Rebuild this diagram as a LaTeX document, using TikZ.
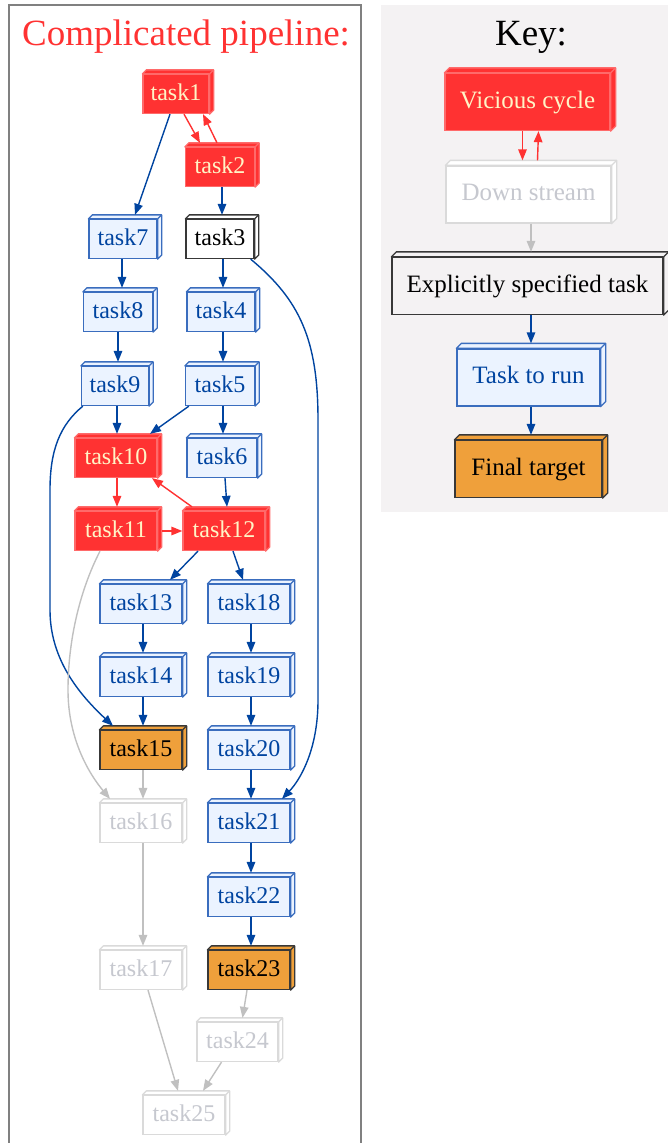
\documentclass[tikz,border=0pt]{standalone}
\usepackage{fontspec}
\setmainfont{Liberation Serif}
\usetikzlibrary{arrows.meta}

\definecolor{cRed}{HTML}{FF3232}
\definecolor{cRedLine}{HTML}{FF6A6A}
\definecolor{cRedText}{HTML}{FFF4C6}
\definecolor{cBlue}{HTML}{0044A0}
\definecolor{cBlueLine}{HTML}{3A6DBE}
\definecolor{cBlueFill}{HTML}{EBF3FF}
\definecolor{cGrayLine}{HTML}{DADADA}
\definecolor{cGrayText}{HTML}{C6C8CF}
\definecolor{cGrayEdge}{HTML}{C0C0C0}
\definecolor{cBlackLine}{HTML}{383838}
\definecolor{cOrange}{HTML}{EFA03B}
\definecolor{cKeyBg}{HTML}{F4F2F3}
\definecolor{cFrame}{HTML}{808080}

% depth of the 3d boxes
\newcommand\bd{4pt}

% 3d box: front face is the node, top and right faces drawn behind it
\newcommand\boxnode[6]{%
  \node[#1, minimum width=#5pt] (#2) at (#3,#4) {#6};
  \filldraw[#1, line join=round]
    (#2.north west) -- ([shift={(\bd,\bd)}]#2.north west)
    -- ([shift={(\bd,\bd)}]#2.north east)
    -- ([shift={(\bd,\bd)}]#2.south east)
    -- (#2.south east) -- (#2.north east) -- cycle;
  \draw[#1] (#2.north east) -- ([shift={(\bd,\bd)}]#2.north east);
}

\tikzset{
  tk/.style={rectangle, inner sep=0pt, minimum height=39pt, line width=1.3pt,
    text height=17pt, text depth=5pt, font=\fontsize{24}{28}\selectfont},
  kb/.style={rectangle, inner sep=0pt, minimum height=57pt, line width=1.3pt,
    text height=17pt, text depth=5pt, font=\fontsize{25}{28}\selectfont},
  redc/.style={draw=cRedLine, fill=cRed, text=cRedText},
  bluec/.style={draw=cBlueLine, fill=cBlueFill, text=cBlue},
  grayc/.style={draw=cGrayLine, fill=white, text=cGrayText},
  blackc/.style={draw=cBlackLine, fill=white, text=black},
  orangec/.style={draw=cBlackLine, fill=cOrange, text=black},
  tip/.style={-{Triangle[length=11pt,width=8.5pt]}},
  be/.style={draw=cBlue, line width=1.4pt, tip},
  re/.style={draw=cRed, line width=1.4pt, tip},
  ge/.style={draw=cGrayEdge, line width=1.4pt, tip},
}

\begin{document}
\begin{tikzpicture}[x=1pt, y=-1pt]
\useasboundingbox (0,0) rectangle (668,1143);

% panels
\fill[cKeyBg] (381,5) rectangle (668,512);
\draw[cFrame, line width=1.6pt] (9,1150) -- (9,5) -- (361,5) -- (361,1150);

% titles
\node[anchor=base, text=cRed, font=\fontsize{37}{40}\selectfont] (ptitle) at (186,45) {Complicated pipeline:};
\node[anchor=base, text=black, font=\fontsize{37}{40}\selectfont] (ktitle) at (531,45) {Key:};

% pipeline tasks
\boxnode{tk,redc}{task1}{176}{94}{66}{task1}
\boxnode{tk,redc}{task2}{220}{167}{69}{task2}
\boxnode{tk,bluec}{task7}{123}{239}{68}{task7}
\boxnode{tk,blackc}{task3}{220}{239}{68}{task3}
\boxnode{tk,bluec}{task8}{118}{312}{69}{task8}
\boxnode{tk,bluec}{task4}{221}{312}{68}{task4}
\boxnode{tk,bluec}{task9}{115}{386}{67}{task9}
\boxnode{tk,bluec}{task5}{220}{386}{69}{task5}
\boxnode{tk,redc}{task10}{116}{458}{82}{task10}
\boxnode{tk,bluec}{task6}{222}{458}{70}{task6}
\boxnode{tk,redc}{task11}{116}{531}{82}{task11}
\boxnode{tk,redc}{task12}{224}{531}{82}{task12}
\boxnode{tk,bluec}{task13}{141}{604}{82}{task13}
\boxnode{tk,bluec}{task18}{249}{604}{82}{task18}
\boxnode{tk,bluec}{task14}{141}{677}{82}{task14}
\boxnode{tk,bluec}{task19}{249}{677}{82}{task19}
\boxnode{tk,orangec}{task15}{141}{750}{82}{task15}
\boxnode{tk,bluec}{task20}{249}{750}{82}{task20}
\boxnode{tk,grayc}{task16}{141}{823}{82}{task16}
\boxnode{tk,bluec}{task21}{249}{823}{82}{task21}
\boxnode{tk,bluec}{task22}{249}{897}{82}{task22}
\boxnode{tk,grayc}{task17}{141}{970}{82}{task17}
\boxnode{tk,orangec}{task23}{249}{970}{82}{task23}
\boxnode{tk,grayc}{task24}{237.5}{1042}{81}{task24}
\boxnode{tk,grayc}{task25}{184}{1115}{82}{task25}

% pipeline edges
\draw[be] ([xshift=-6pt]task1.south) -- ([xshift=12pt,yshift=4pt]task7.north);
\draw[re] ([xshift=8pt]task1.south) -- ([xshift=-20pt,yshift=4pt]task2.north);
\draw[re] ([xshift=-3pt,yshift=4pt]task2.north) -- ([xshift=27pt]task1.south);
\draw[be] ([xshift=2pt]task2.south) -- ([xshift=2pt,yshift=4pt]task3.north);
\draw[be] ([xshift=-1pt]task7.south) -- ([xshift=4pt,yshift=4pt]task8.north);
\draw[be] (task8.south) -- ([xshift=3pt,yshift=4pt]task9.north);
\draw[be] ([xshift=3pt]task3.south) -- ([xshift=2pt,yshift=4pt]task4.north);
\draw[be] ([xshift=2pt]task4.south) -- ([xshift=3pt,yshift=4pt]task5.north);
\draw[be] ([xshift=3pt]task5.south) -- ([xshift=1pt,yshift=4pt]task6.north);
\draw[be] ([xshift=2pt]task9.south) -- ([xshift=1pt,yshift=4pt]task10.north);
\draw[be] ([xshift=4pt]task5.south west) -- ([xshift=34pt,yshift=4pt]task10.north);
\draw[be] ([xshift=3pt]task6.south) -- ([xshift=3pt,yshift=4pt]task12.north);
\draw[re] ([xshift=1pt]task10.south) -- ([xshift=1pt,yshift=4pt]task11.north);
\draw[re] ([xshift=4pt]task11.east) -- (task12.west);
\draw[re] ([xshift=-32pt,yshift=4pt]task12.north) -- ([xshift=36pt]task10.south);
\draw[be] ([xshift=-26pt]task12.south) -- ([xshift=29pt,yshift=4pt]task13.north);
\draw[be] ([xshift=9pt]task12.south) -- ([xshift=-6pt,yshift=4pt]task18.north);
\draw[be] ([xshift=2pt]task13.south) -- ([xshift=2pt,yshift=4pt]task14.north);
\draw[be] ([xshift=2pt]task14.south) -- ([xshift=2pt,yshift=4pt]task15.north);
\draw[ge] ([xshift=2pt]task15.south) -- ([xshift=2pt,yshift=4pt]task16.north);
\draw[ge] ([xshift=2pt]task16.south) -- ([xshift=2pt,yshift=4pt]task17.north);
\draw[be] ([xshift=2pt]task18.south) -- ([xshift=2pt,yshift=4pt]task19.north);
\draw[be] ([xshift=2pt]task19.south) -- ([xshift=2pt,yshift=4pt]task20.north);
\draw[be] ([xshift=2pt]task20.south) -- ([xshift=2pt,yshift=4pt]task21.north);
\draw[be] ([xshift=2pt]task21.south) -- ([xshift=2pt,yshift=4pt]task22.north);
\draw[be] ([xshift=2pt]task22.south) -- ([xshift=2pt,yshift=4pt]task23.north);
\draw[ge] ([xshift=-2pt]task23.south) -- ([xshift=5pt,yshift=4pt]task24.north);
\draw[ge] ([xshift=7pt]task17.south) -- ([xshift=-6pt,yshift=4pt]task25.north);
\draw[ge] ([xshift=-16pt]task24.south) -- ([xshift=19pt,yshift=4pt]task25.north);

% long detours
\draw[be] ([xshift=2pt]task9.south west) .. controls (60,425) and (50,450) .. (50,490)
  -- (50,610) .. controls (50,660) and (80,695) .. ([xshift=-28pt,yshift=4pt]task15.north);
\draw[ge] ([xshift=-16pt]task11.south) .. controls (80,590) and (68,640) .. (68,690)
  .. controls (68,740) and (90,775) .. ([xshift=-31pt,yshift=4pt]task16.north);
\draw[be] ([xshift=-4pt]task3.south east) .. controls (300,300) and (318,340) .. (318,420)
  -- (318,700) .. controls (318,750) and (300,780) .. ([xshift=33pt,yshift=4pt]task21.north);

% key
\renewcommand\bd{5pt}
\boxnode{kb,redc}{vicious}{527.5}{102}{165}{Vicious cycle}
\boxnode{kb,grayc}{down}{528.5}{194.5}{165}{Down stream}
\boxnode{kb,blackc,fill=cKeyBg}{explicit}{527.5}{286}{271}{Explicitly specified task}
\boxnode{kb,bluec}{torun}{528.5}{377.5}{143}{Task to run}
\boxnode{kb,orangec}{final}{528.5}{469}{147}{Final target}

\draw[re] ([xshift=-5pt]vicious.south) -- ([xshift=-6pt,yshift=5pt]down.north);
\draw[re] ([xshift=9pt,yshift=5pt]down.north) -- ([xshift=11pt]vicious.south);
\draw[ge] ([xshift=2.5pt]down.south) -- ([xshift=3.5pt,yshift=5pt]explicit.north);
\draw[be] ([xshift=3.5pt]explicit.south) -- ([xshift=2.5pt,yshift=5pt]torun.north);
\draw[be] ([xshift=2.5pt]torun.south) -- ([xshift=2.5pt,yshift=5pt]final.north);
\end{tikzpicture}
\end{document}
